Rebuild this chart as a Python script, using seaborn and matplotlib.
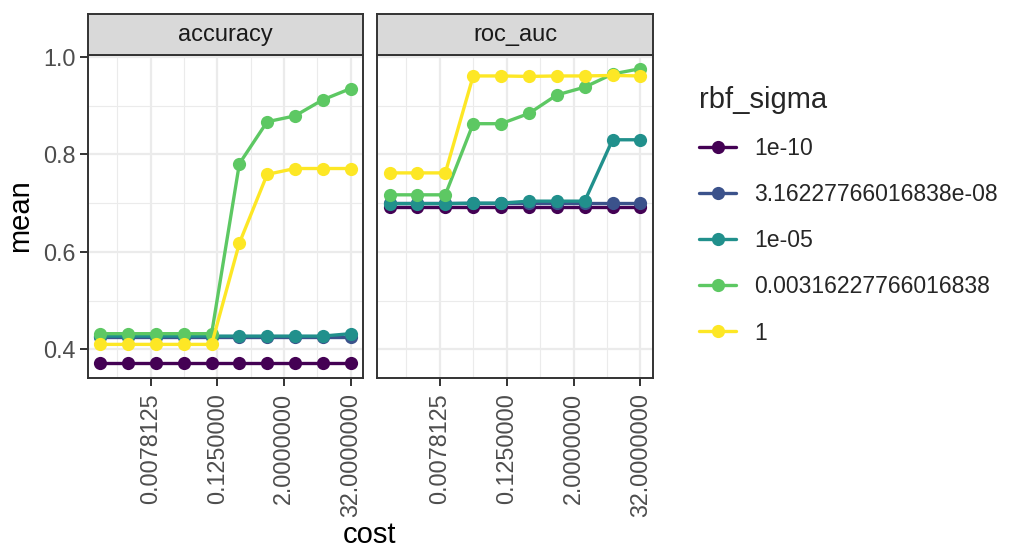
import matplotlib
matplotlib.use("Agg")
import matplotlib.pyplot as plt
import seaborn as sns
import pandas as pd
from matplotlib.ticker import FixedLocator, NullFormatter

# ---- data ----
cost = [0.0009765625, 0.003100393, 0.00984313, 0.03125, 0.09921257,
        0.31498026, 1.0, 3.174802, 10.07937, 32.0]
sigma_levels = ["1e-10", "3.16227766016838e-08", "1e-05", "0.00316227766016838", "1"]
metrics = ["accuracy", "roc_auc"]

acc_1e10 = [0.371, 0.371, 0.371, 0.371, 0.371, 0.371, 0.371, 0.371, 0.371, 0.371]
acc_3e8 = [0.426, 0.426, 0.426, 0.426, 0.426, 0.426, 0.426, 0.426, 0.426, 0.426]
acc_1e5 = [0.427, 0.427, 0.427, 0.427, 0.427, 0.427, 0.427, 0.427, 0.427, 0.432]
acc_3e3 = [0.432, 0.432, 0.432, 0.432, 0.432, 0.781, 0.867, 0.879, 0.912, 0.935]
acc_1 = [0.410, 0.410, 0.410, 0.410, 0.410, 0.618, 0.759, 0.771, 0.771, 0.771]

roc_1e10 = [0.693, 0.693, 0.693, 0.693, 0.693, 0.693, 0.693, 0.693, 0.693, 0.693]
roc_3e8 = [0.700, 0.700, 0.700, 0.700, 0.700, 0.700, 0.700, 0.700, 0.700, 0.700]
roc_1e5 = [0.699, 0.699, 0.699, 0.700, 0.700, 0.704, 0.704, 0.704, 0.830, 0.830]
roc_3e3 = [0.717, 0.717, 0.717, 0.863, 0.863, 0.884, 0.922, 0.938, 0.965, 0.976]
roc_1 = [0.762, 0.762, 0.762, 0.961, 0.961, 0.960, 0.961, 0.961, 0.962, 0.961]

x_ticks = [0.0078125, 0.125, 2.0, 32.0]
x_tick_labels = ["0.0078125", "0.1250000", "2.0000000", "32.0000000"]
x_minor = [2**-9, 2**-5, 2**-1, 2**3]
y_ticks = [0.4, 0.6, 0.8, 1.0]
y_tick_labels = ["0.4", "0.6", "0.8", "1.0"]
y_minor = [0.5, 0.7, 0.9]

series = {
    "accuracy": [acc_1e10, acc_3e8, acc_1e5, acc_3e3, acc_1],
    "roc_auc": [roc_1e10, roc_3e8, roc_1e5, roc_3e3, roc_1],
}
rows = []
for m in metrics:
    for s, vals in zip(sigma_levels, series[m]):
        for c, v in zip(cost, vals):
            rows.append({".metric": m, "rbf_sigma": s, "cost": c, "mean": v})
df = pd.DataFrame(rows)

# ---- style ----
sns.set_style("white")
plt.rcParams["font.family"] = ["Liberation Sans", "DejaVu Sans"]
palette = ["#440154", "#3B528B", "#21908C", "#5DC863", "#FDE725"]

W, H = 1022, 550
fig = plt.figure(figsize=(W / 100, H / 100), dpi=100)

panel_px = [(88, 363), (377, 653)]
top_px, bot_px, strip_top_px = 55, 378, 14

handles = labels = None
for i, (m, (l, r)) in enumerate(zip(metrics, panel_px)):
    ax = fig.add_axes([l / W, 1 - bot_px / H, (r - l) / W, (bot_px - top_px) / H])
    sub = df[df[".metric"] == m]
    sns.lineplot(data=sub, x="cost", y="mean", hue="rbf_sigma", hue_order=sigma_levels,
                 palette=palette, marker="o", markersize=9.5, markeredgewidth=0,
                 linewidth=2.4, ax=ax, legend=(i == 0), zorder=3)
    if i == 0:
        handles, labels = ax.get_legend_handles_labels()
        ax.get_legend().remove()
    ax.set_xscale("log", base=2)
    ax.set_xlim(2**-10.75, 2**5.75)
    ax.set_ylim(0.341, 1.004)
    ax.xaxis.set_major_locator(FixedLocator(x_ticks))
    ax.set_xticklabels(x_tick_labels, rotation=90, color="#4D4D4D", fontsize=16.8)
    ax.xaxis.set_minor_locator(FixedLocator(x_minor))
    ax.xaxis.set_minor_formatter(NullFormatter())
    ax.yaxis.set_major_locator(FixedLocator(y_ticks))
    ax.yaxis.set_minor_locator(FixedLocator(y_minor))
    if i == 0:
        ax.set_yticklabels(y_tick_labels, color="#4D4D4D", fontsize=16.8)
        ax.tick_params(axis="y", which="major", length=6, width=1.4, color="#333333",
                       left=True, pad=3)
    else:
        ax.tick_params(axis="y", which="major", left=False, labelleft=False)
    ax.tick_params(axis="x", which="major", length=6, width=1.4, color="#333333",
                   bottom=True, pad=5)
    ax.tick_params(which="minor", length=0)
    ax.grid(True, which="major", color="#EBEBEB", linewidth=1.6, zorder=0)
    ax.grid(True, which="minor", color="#EBEBEB", linewidth=0.8, zorder=0)
    ax.set_axisbelow(True)
    for sp in ax.spines.values():
        sp.set_color("#333333")
        sp.set_linewidth(1.4)
    ax.set_xlabel("")
    ax.set_ylabel("")
    # strip
    sax = fig.add_axes([l / W, 1 - top_px / H, (r - l) / W, (top_px - strip_top_px) / H])
    sax.set_facecolor("#D9D9D9")
    sax.set_xticks([])
    sax.set_yticks([])
    for sp in sax.spines.values():
        sp.set_color("#333333")
        sp.set_linewidth(1.4)
    sax.text(0.5, 0.5, m, ha="center", va="center", fontsize=17, color="#1A1A1A",
             transform=sax.transAxes)

fig.text(20 / W, 1 - 216 / H, "mean", rotation=90, ha="center", va="center",
         fontsize=21, color="black")
fig.text(370 / W, 1 - 543 / H, "cost", ha="center", va="baseline",
         fontsize=21, color="black")

leg = fig.legend(handles, labels, title="rbf_sigma", loc="upper left",
                 bbox_to_anchor=(690 / W, 1 - 77 / H), frameon=False,
                 fontsize=16.6, title_fontsize=21, handlelength=1.6,
                 handletextpad=0.8, labelspacing=1.0, borderaxespad=0)
leg._legend_box.align = "left"

fig.savefig("out.png", dpi=100)
